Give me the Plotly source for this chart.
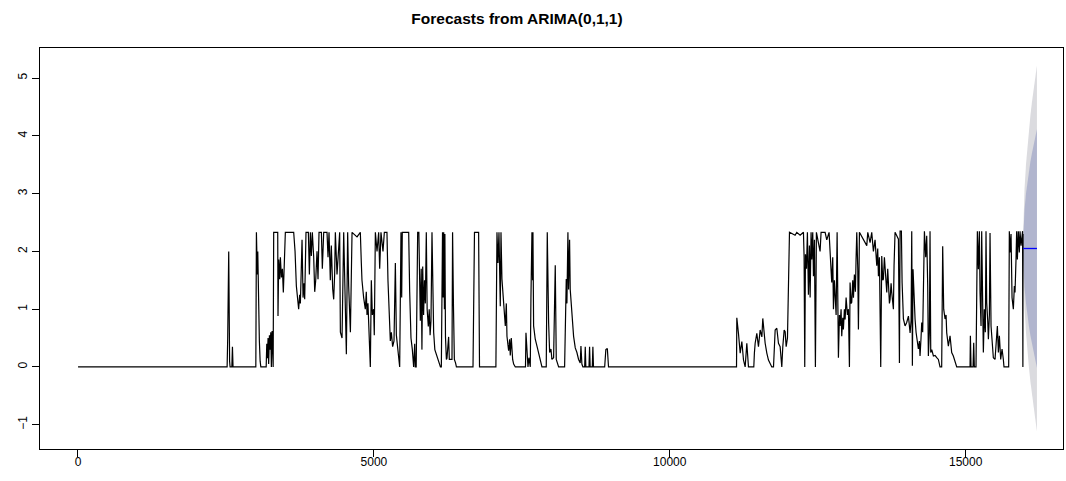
import plotly.graph_objects as go

series_points = [
    (1, 0), (2520, 0), (2530, 0.5), (2547, 2.0), (2562, 0.1), (2570, 0), (2600, 0), (2610, 0.35), (2620, 0),
    (3005, 0), (3015, 2.33), (3030, 1.6), (3038, 2.0), (3050, 1.0), (3058, 1.3), (3065, 0.45), (3078, 0.1), (3090, 0),
    (3180, 0), (3190, 0.4), (3200, 0.15), (3212, 0.5), (3222, 0.05), (3235, 0.55), (3245, 0.3), (3258, 0.6),
    (3268, 0.0), (3280, 0.62), (3290, 0.35), (3298, 0.0),
    (3307, 2.33), (3375, 2.33), (3380, 0.88), (3392, 1.86), (3409, 1.52), (3420, 1.9), (3437, 1.55), (3454, 1.7),
    (3470, 1.29), (3487, 1.8), (3504, 2.33), (3645, 2.33), (3668, 2.0), (3690, 1.4), (3713, 1.2), (3729, 1.0),
    (3746, 1.25), (3758, 1.1), (3786, 2.2), (3803, 1.2), (3820, 1.45), (3831, 1.17), (3853, 2.33), (3893, 2.33),
    (3910, 1.6), (3927, 2.33), (3943, 1.92), (3960, 2.33), (3983, 1.9), (4000, 1.3), (4017, 1.5), (4039, 2.0),
    (4056, 1.52), (4073, 2.33), (4113, 2.33), (4129, 1.7), (4152, 2.33), (4208, 2.33), (4225, 1.9), (4242, 2.33),
    (4264, 1.5), (4281, 2.1), (4304, 1.35), (4321, 1.17), (4337, 1.6), (4349, 2.33), (4377, 1.6), (4400, 2.1),
    (4422, 2.33),
    (4434, 0.6), (4462, 0.5), (4490, 2.33), (4518, 1.3), (4535, 0.22), (4557, 2.33), (4574, 1.4), (4603, 0.6),
    (4631, 2.33), (4715, 2.25), (4771, 2.33), (4788, 1.8), (4799, 1.5), (4827, 1.2), (4855, 1.0), (4872, 1.3),
    (4884, 0.9), (4900, 1.1), (4912, 0.8), (4940, 0.0), (4957, 1.5), (4974, 0.9), (4996, 1.0), (5007, 0.55),
    (5025, 2.33), (5053, 2.0), (5081, 2.33), (5098, 1.7), (5120, 2.33), (5154, 2.0), (5177, 2.33), (5221, 2.33),
    (5238, 1.5), (5255, 0.9), (5278, 0.45), (5295, 0.6), (5317, 0.35), (5340, 0.45), (5363, 1.8), (5380, 0.55),
    (5408, 0.3), (5436, 0.0), (5458, 2.33), (5470, 1.2), (5480, 2.33), (5588, 2.33), (5605, 1.3), (5627, 0.5),
    (5650, 0.3), (5672, 0.0), (5690, 0.4), (5700, 0.0), (5715, 0.0), (5740, 2.33), (5760, 2.33),
    (5785, 0.8), (5800, 1.7), (5812, 0.3), (5825, 1.74), (5840, 0.9), (5855, 1.5), (5870, 1.1), (5886, 2.33),
    (5900, 1.0), (5920, 0.7), (5935, 1.0), (5950, 0.55), (5965, 0.8), (5982, 2.33), (5995, 1.0), (6010, 0.6),
    (6030, 0.3), (6060, 0.2), (6090, 0.1), (6115, 0.05), (6125, 0.0),
    (6140, 0.0), (6150, 1.5), (6160, 2.33), (6170, 1.2), (6180, 2.33), (6192, 1.0), (6200, 2.3), (6210, 0.52),
    (6225, 0.13), (6235, 0.15), (6263, 0.52), (6275, 0.13), (6320, 0.13), (6330, 2.33), (6345, 1.05), (6360, 0.13),
    (6380, 0.07), (6395, 0.0),
    (6675, 0.0), (6685, 1.2), (6700, 2.33), (6770, 2.33), (6785, 0.0),
    (7062, 0.0), (7069, 1.86), (7080, 2.33), (7097, 1.8), (7114, 2.33), (7136, 1.05), (7148, 2.33), (7164, 1.52),
    (7193, 1.0), (7221, 0.71), (7238, 1.1), (7249, 0.53), (7277, 0.28), (7294, 0.48), (7305, 0.2), (7322, 0.5),
    (7345, 0.13), (7362, 0.05), (7390, 0.0),
    (7562, 0.0), (7570, 0.59), (7587, 0.13), (7604, 0.0), (7620, 0.16), (7643, 0.0), (7654, 1.2), (7671, 2.33),
    (7682, 1.5), (7688, 2.33), (7699, 0.71), (7727, 0.48), (7756, 0.36), (7784, 0.25), (7812, 0.13), (7840, 0.0),
    (7913, 0.0), (7930, 2.33), (7953, 0.76), (7970, 0.25), (7992, 0.31), (8009, 0.13), (8037, 0.16), (8065, 1.76),
    (8082, 0.13), (8105, 0.07), (8122, 0.0),
    (8223, 0.0), (8234, 0.88), (8251, 1.52), (8262, 1.1), (8279, 2.33), (8290, 1.34), (8307, 2.2), (8318, 1.34),
    (8347, 0.93), (8375, 0.53), (8403, 0.33), (8431, 0.25), (8459, 0.13), (8487, 0.07), (8499, 0.36), (8515, 0.05),
    (8532, 0.0), (8562, 0.0), (8572, 0.35), (8582, 0.0), (8635, 0.0), (8645, 0.35), (8655, 0.0), (8691, 0.0),
    (8701, 0.35), (8711, 0.0),
    (8900, 0.0), (8920, 0.3), (8945, 0.32), (8965, 0.0),
    (11128, 0.0), (11133, 0.85), (11161, 0.58), (11190, 0.24), (11218, 0.44), (11246, 0.12), (11274, 0.0),
    (11302, 0.41), (11330, 0.0), (11420, 0.0), (11430, 0.24), (11443, 0.41), (11471, 0.58), (11499, 0.35),
    (11527, 0.64), (11556, 0.52), (11572, 0.84), (11595, 0.58), (11612, 0.41), (11640, 0.24), (11668, 0.12),
    (11696, 0.06), (11724, 0.0), (11753, 0.0), (11781, 0.64), (11809, 0.67), (11837, 0.41), (11865, 0.35),
    (11893, 0.0), (11910, 0.35), (11933, 0.64), (11950, 0.61), (11967, 0.35), (11989, 0.5), (12006, 1.85),
    (12023, 2.33),
    (12118, 2.28), (12146, 2.33), (12203, 2.28), (12259, 2.33), (12270, 1.9), (12281, 0.0), (12293, 1.95),
    (12310, 1.7), (12326, 2.33), (12343, 1.25), (12360, 2.1), (12372, 1.2), (12388, 2.33), (12400, 1.86),
    (12416, 2.33), (12428, 1.57), (12445, 2.2), (12461, 0.0), (12478, 2.33), (12540, 2.0), (12557, 2.33),
    (12625, 2.33), (12653, 2.2), (12692, 2.33), (12709, 2.0), (12721, 1.68), (12737, 1.46), (12754, 1.9),
    (12766, 1.0), (12782, 1.5), (12794, 1.29), (12811, 0.9), (12828, 2.33), (12850, 0.16), (12867, 0.9),
    (12878, 0.71), (12895, 1.0), (12906, 0.53), (12923, 0.85), (12934, 0.65), (12951, 1.0), (12963, 0.82),
    (12980, 1.2), (13002, 0.9), (13019, 1.0), (13036, 0.0), (13047, 1.46), (13064, 1.1), (13075, 1.12),
    (13092, 1.5), (13104, 1.2), (13120, 1.6), (13137, 1.3), (13148, 1.86), (13160, 2.33), (13177, 1.7),
    (13188, 0.65), (13205, 2.33), (13329, 2.1), (13346, 2.33), (13385, 2.15), (13413, 2.33), (13441, 2.0),
    (13469, 2.2), (13498, 1.75), (13514, 2.05), (13526, 1.57), (13543, 1.9), (13565, 0.0), (13582, 1.92),
    (13599, 1.5), (13610, 1.52), (13627, 1.9), (13638, 1.75), (13655, 1.4), (13667, 1.29), (13683, 1.7),
    (13695, 1.52), (13712, 1.1),
    (13723, 1.17), (13740, 1.45), (13751, 1.29), (13768, 1.1), (13779, 1.0), (13790, 1.75), (13807, 2.33),
    (13836, 2.27), (13864, 2.21), (13881, 0.07), (13892, 2.35), (13914, 2.35), (13926, 1.46), (13948, 0.83),
    (13976, 0.71), (14004, 0.77), (14033, 0.88), (14061, 0.59), (14078, 0.8), (14089, 2.35), (14100, 0.02),
    (14111, 1.69), (14128, 1.2), (14145, 0.83), (14162, 0.6), (14173, 0.48), (14201, 0.31), (14218, 0.45),
    (14229, 0.19), (14246, 0.5), (14258, 0.77), (14274, 0.6), (14286, 1.6), (14303, 2.35), (14325, 1.9),
    (14342, 2.27), (14359, 1.4), (14370, 0.19), (14387, 0.6), (14398, 2.35), (14410, 0.25), (14427, 0.3),
    (14455, 0.19), (14483, 0.2), (14511, 0.16), (14539, 0.13), (14567, 0.0), (14595, 0.0), (14612, 2.09),
    (14629, 1.0), (14652, 0.83), (14669, 0.9), (14680, 0.59), (14708, 0.36), (14736, 0.54), (14764, 0.25),
    (14792, 0.19), (14821, 0.1), (14849, 0.0),
    (15074, 0.0), (15080, 0.54), (15091, 0.0), (15125, 0.0), (15136, 0.42), (15147, 0.0), (15175, 0.0),
    (15187, 1.2), (15198, 2.35), (15215, 1.69), (15232, 2.35), (15243, 1.29), (15260, 0.71), (15271, 2.35),
    (15288, 0.9), (15299, 0.25), (15316, 1.0), (15333, 0.6), (15344, 2.35), (15356, 1.11), (15373, 0.8),
    (15384, 0.48), (15401, 0.9), (15412, 2.32), (15429, 0.71), (15446, 0.5), (15457, 0.25), (15468, 0.16),
    (15496, 0.13), (15513, 0.45), (15524, 0.48), (15536, 0.71), (15553, 0.25), (15570, 0.54), (15592, 0.13),
    (15615, 0.31), (15637, 0.13), (15648, 0.0), (15727, 0.0), (15738, 2.35), (15750, 1.98), (15767, 2.3),
    (15784, 1.2), (15806, 1.0), (15823, 1.4), (15834, 1.29), (15851, 1.86), (15862, 2.35), (15874, 1.86),
    (15890, 2.35), (15907, 1.98), (15919, 2.35), (15936, 2.1), (15947, 2.21), (15962, 2.35), (15967, 0.0),
    (15970, 2.3),
]
series_time = [p[0] for p in series_points]
series_value = [p[1] for p in series_points]

# ---- forecast ----
fc_time = [15971, 15980, 15995, 16020, 16045, 16070, 16095, 16120, 16145, 16170, 16205]
fc_mean = [2.05] * len(fc_time)
fc_hi95 = [2.26, 2.70, 3.08, 3.51, 3.84, 4.12, 4.36, 4.58, 4.79, 4.97, 5.22]
fc_lo95 = [1.84, 1.40, 1.02, 0.59, 0.26, -0.02, -0.26, -0.48, -0.69, -0.87, -1.12]
fc_hi80 = [2.19, 2.48, 2.72, 3.00, 3.22, 3.40, 3.56, 3.70, 3.84, 3.96, 4.12]
fc_lo80 = [1.91, 1.62, 1.38, 1.10, 0.88, 0.70, 0.54, 0.40, 0.26, 0.14, -0.02]

x_ticks = [0, 5000, 10000, 15000]
y_ticks = [-1, 0, 1, 2, 3, 4, 5]
y_tick_text = ["\u22121", "0", "1", "2", "3", "4", "5"]
title_text = "Forecasts from ARIMA(0,1,1)"

FONT = "Liberation Sans, Arial, sans-serif"

fig = go.Figure()
fig.add_trace(go.Scatter(
    x=fc_time + fc_time[::-1], y=fc_hi95 + fc_lo95[::-1],
    fill="toself", fillcolor="#DBDBDF", line=dict(width=0), mode="lines",
    hoverinfo="skip", showlegend=False))
fig.add_trace(go.Scatter(
    x=fc_time + fc_time[::-1], y=fc_hi80 + fc_lo80[::-1],
    fill="toself", fillcolor="#B1B5CE", line=dict(width=0), mode="lines",
    hoverinfo="skip", showlegend=False))
fig.add_trace(go.Scatter(
    x=series_time, y=series_value, mode="lines",
    line=dict(color="black", width=1.2), showlegend=False))
fig.add_trace(go.Scatter(
    x=fc_time, y=fc_mean, mode="lines",
    line=dict(color="#0000FF", width=1.3), showlegend=False))

axis_common = dict(
    showgrid=False, zeroline=False, showline=True, mirror=True,
    linecolor="black", linewidth=1, ticks="outside", ticklen=7,
    tickcolor="black", tickwidth=1,
    tickfont=dict(family=FONT, size=12, color="black"),
)
fig.update_layout(
    width=1066, height=481,
    margin=dict(l=40, r=3, t=48, b=32),
    paper_bgcolor="white", plot_bgcolor="white",
    font=dict(family=FONT, color="black"),
    title=dict(text=title_text, x=517 / 1066, xref="container", xanchor="center",
               y=1 - 19 / 481, yref="container", yanchor="middle",
               font=dict(size=15.5, weight="bold", color="black", family=FONT)),
    xaxis=dict(range=[-642, 16645], tickvals=x_ticks, ticktext=[str(v) for v in x_ticks],
               ticklabelstandoff=-5, **axis_common),
    yaxis=dict(range=[-1.42, 5.52], tickvals=y_ticks, ticktext=y_tick_text, tickangle=-90,
               **axis_common),
)
fig.write_html("out.html")
